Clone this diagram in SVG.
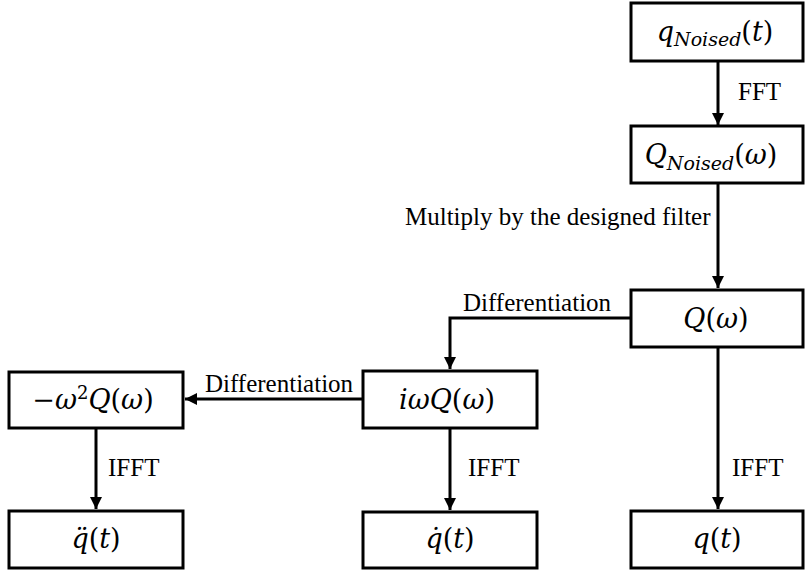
<svg xmlns="http://www.w3.org/2000/svg" width="806" height="571" viewBox="0 0 806 571">
<style>
.box{fill:#fff;stroke:#000;stroke-width:3}
.m{font-size:27px;text-anchor:middle;fill:#000}
.i{font-style:italic}
.s{font-size:19px;font-style:italic}
.lbl{font-size:25px;fill:#000}
.c{fill:none;stroke:#000;stroke-width:3}
</style>
<defs>
<marker id="ah" markerWidth="12" markerHeight="12" viewBox="0 0 12 12" refX="12" refY="6" orient="auto" markerUnits="userSpaceOnUse">
<path d="M0,0 L12,6 L0,12 Z" fill="#000"/>
</marker>
</defs>
<g id="connectors">
<line class="c" x1="718" y1="61" x2="718" y2="125" marker-end="url(#ah)"/>
<line class="c" x1="718" y1="183" x2="718" y2="288" marker-end="url(#ah)"/>
<polyline class="c" points="631,318 450,318 450,369" marker-end="url(#ah)"/>
<line class="c" x1="363" y1="399" x2="185" y2="399" marker-end="url(#ah)"/>
<line class="c" x1="96" y1="428" x2="96" y2="509" marker-end="url(#ah)"/>
<line class="c" x1="450" y1="428" x2="450" y2="510" marker-end="url(#ah)"/>
<line class="c" x1="718" y1="347" x2="718" y2="509" marker-end="url(#ah)"/>
<g font-family="Liberation Serif, serif">
<text class="lbl" x="738" y="100">FFT</text>
<text class="lbl" x="405" y="225">Multiply by the designed filter</text>
<text class="lbl" x="463" y="311">Differentiation</text>
<text class="lbl" x="205" y="392">Differentiation</text>
<text class="lbl" x="108" y="476">IFFT</text>
<text class="lbl" x="468" y="476">IFFT</text>
<text class="lbl" x="732" y="476">IFFT</text>
</g>
</g>
<g font-family="DejaVu Serif, serif">
<g id="q_noised_t">
<rect class="box" x="631" y="3" width="172" height="58"/>
<text class="m" x="715" y="41"><tspan class="i">q</tspan><tspan class="s" dy="5">Noised</tspan><tspan dy="-5">(</tspan><tspan class="i">t</tspan>)</text>
</g>
<g id="Q_noised_w">
<rect class="box" x="631" y="126" width="172" height="57"/>
<text class="m" x="711" y="164"><tspan class="i">Q</tspan><tspan class="s" dy="6">Noised</tspan><tspan dy="-6">(</tspan><tspan class="i">ω</tspan>)</text>
</g>
<g id="Q_w">
<rect class="box" x="631" y="290" width="172" height="57"/>
<text class="m" x="716" y="328"><tspan class="i">Q</tspan>(<tspan class="i">ω</tspan>)</text>
</g>
<g id="iwQ_w">
<rect class="box" x="363" y="371" width="174" height="57"/>
<text class="m" x="447" y="409"><tspan class="i">iωQ</tspan>(<tspan class="i">ω</tspan>)</text>
</g>
<g id="w2Q_w">
<rect class="box" x="9" y="372" width="174" height="56"/>
<text class="m" x="93" y="409">−<tspan class="i">ω</tspan><tspan font-size="18" dy="-10">2</tspan><tspan class="i" dy="10">Q</tspan>(<tspan class="i">ω</tspan>)</text>
</g>
<g id="qdd_t">
<rect class="box" x="9" y="511" width="174" height="57"/>
<text class="m" x="96" y="548"><tspan class="i">q̈</tspan>(<tspan class="i">t</tspan>)</text>
</g>
<g id="qd_t">
<rect class="box" x="363" y="512" width="174" height="56"/>
<text class="m" x="450" y="548"><tspan class="i">q̇</tspan>(<tspan class="i">t</tspan>)</text>
</g>
<g id="q_t">
<rect class="box" x="631" y="511" width="172" height="57"/>
<text class="m" x="717" y="548"><tspan class="i">q</tspan>(<tspan class="i">t</tspan>)</text>
</g>
</g>
</svg>
